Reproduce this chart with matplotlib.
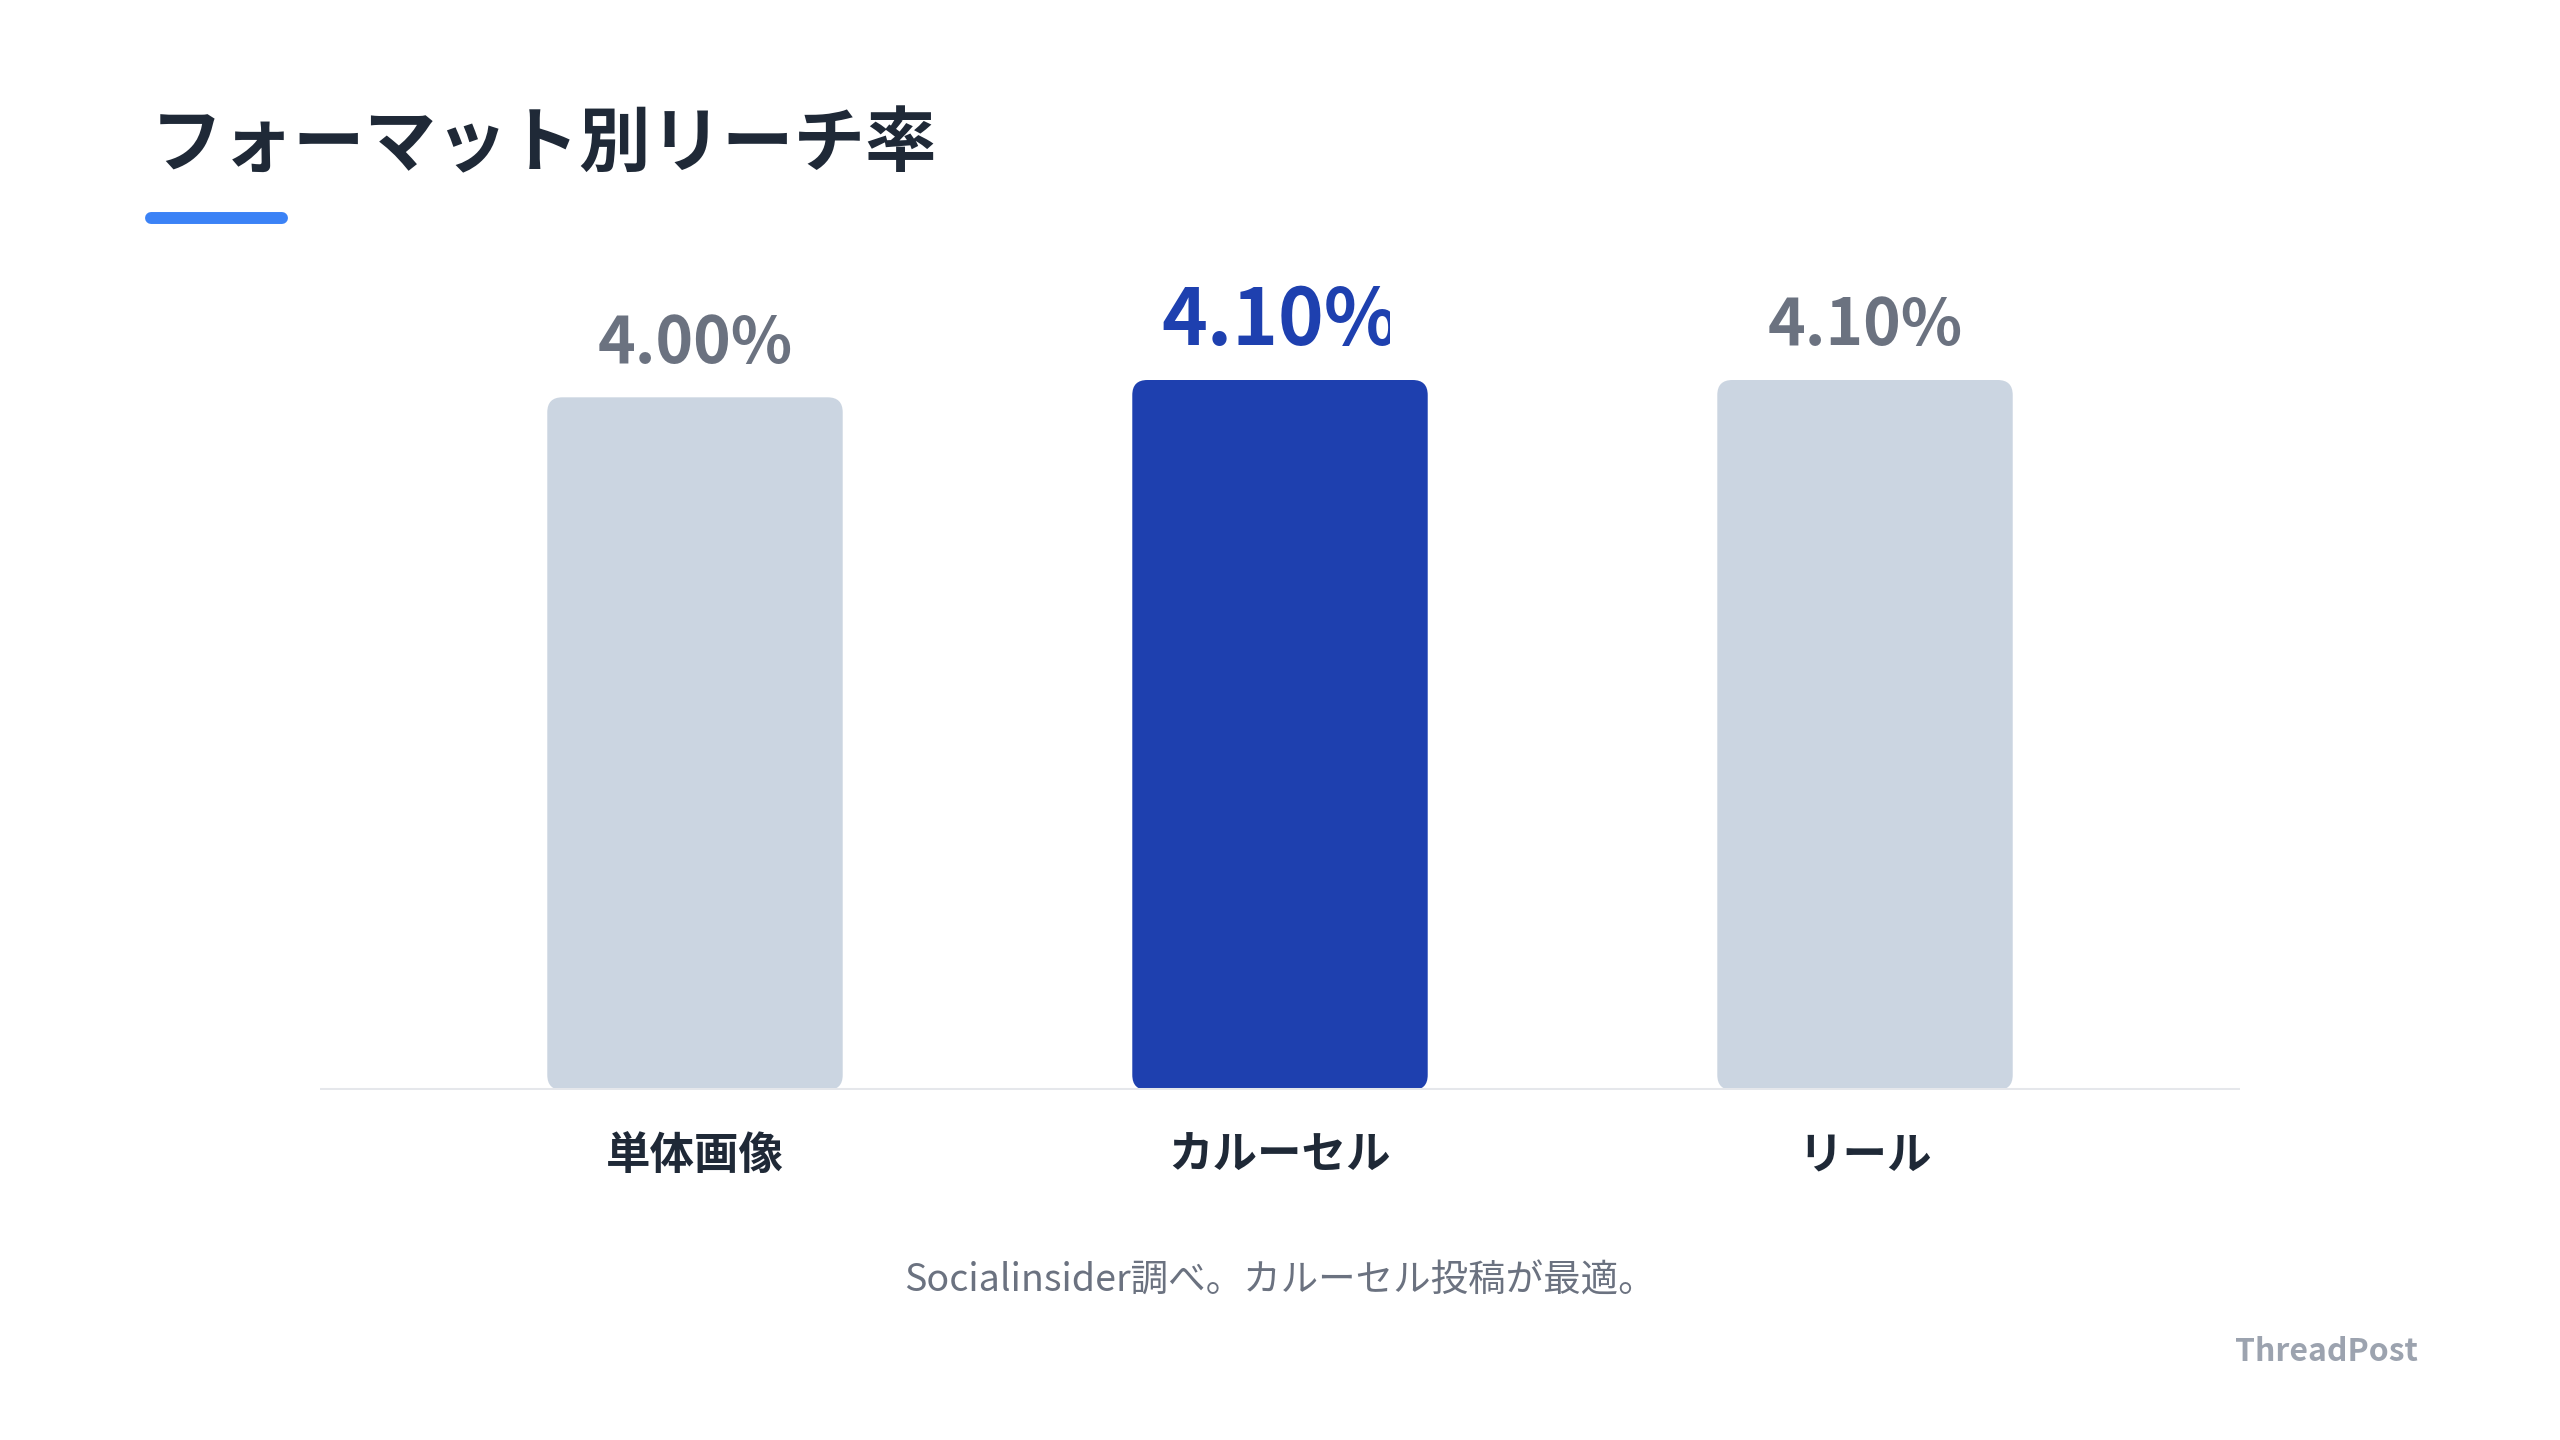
import matplotlib
matplotlib.use("Agg")
import matplotlib.pyplot as plt
from matplotlib.patches import FancyBboxPatch, Rectangle
from matplotlib.lines import Line2D

plt.rcParams['font.family'] = ['Noto Sans CJK JP', 'DejaVu Sans']

# data
categories = ['単体画像', 'カルーセル', 'リール']
values = [4.00, 4.10, 4.10]
value_labels = ['4.00%', '4.10%', '4.10%']
highlight = 1  # carousel bar is the highlighted one

title = 'フォーマット別リーチ率'
caption = 'Socialinsider調べ。カルーセル投稿が最適。'
brand = 'ThreadPost'

# colours
c_bar = '#CBD5E1'
c_hi = '#1E40AF'
c_label = '#6B7280'
c_dark = '#1F2937'

W, H = 2560, 1440
fig = plt.figure(figsize=(W / 100, H / 100), dpi=100)
fig.patch.set_facecolor('white')

# axes sized so the bars land where the reference puts them (pixels from top-left)
x0, x1, y_base, h_px = 320, 2240, 1090, 710
ax = fig.add_axes([x0 / W, (H - y_base) / H, (x1 - x0) / W, h_px / H])
ax.set_xlim(-0.641, 2.641)
ax.set_ylim(0, 4.1)
ax.axis('off')

bar_w = 0.505
px_x = (2.641 + 0.641) / (x1 - x0)   # x data units per pixel
px_y = 4.1 / h_px                     # y data units per pixel
aspect = px_y / px_x

for i, v in enumerate(values):
    col = c_hi if i == highlight else c_bar
    p = FancyBboxPatch((i - bar_w / 2, 0), bar_w, v,
                       boxstyle="round,pad=0,rounding_size=%f" % (15 * px_x),
                       mutation_aspect=aspect, fc=col, ec='none', zorder=3)
    ax.add_patch(p)

    if i == highlight:
        t = ax.annotate(value_labels[i], (i, v), xytext=(0, 25), textcoords='offset points',
                        ha='center', va='baseline', fontsize=56, fontweight='bold',
                        color=c_hi, annotation_clip=False)
        # the reference cuts off the right side of this label
        t.set_clip_path(Rectangle((0, 0), 1390 / W, 1, transform=fig.transFigure))
    else:
        ax.annotate(value_labels[i], (i, v), xytext=(0, 25), textcoords='offset points',
                    ha='center', va='baseline', fontsize=46, fontweight='bold',
                    color=c_label, annotation_clip=False)

    ax.text(i, -66 * px_y, categories[i], ha='center', va='center',
            fontsize=32, fontweight='bold', color=c_dark, clip_on=False)

# baseline
ax.axhline(0, color='#E5E7EB', lw=2.9, zorder=4)

# title and blue underline
fig.text(151 / W, 1 - 145 / H, title, fontsize=51.5, fontweight='bold', color=c_dark,
         ha='left', va='center')
fig.add_artist(Line2D([151 / W, 282 / W], [1 - 218 / H, 1 - 218 / H], lw=8.6,
                      color='#3B82F6', solid_capstyle='round', transform=fig.transFigure))

fig.text(1280 / W, 1 - 1281 / H, caption, fontsize=27, color=c_label,
         ha='center', va='center')
fig.text(2418 / W, 1 - 1352 / H, brand, fontsize=23, fontweight='bold', color='#9CA3AF',
         ha='right', va='center')

fig.savefig('out.png', dpi=100, facecolor='white')
